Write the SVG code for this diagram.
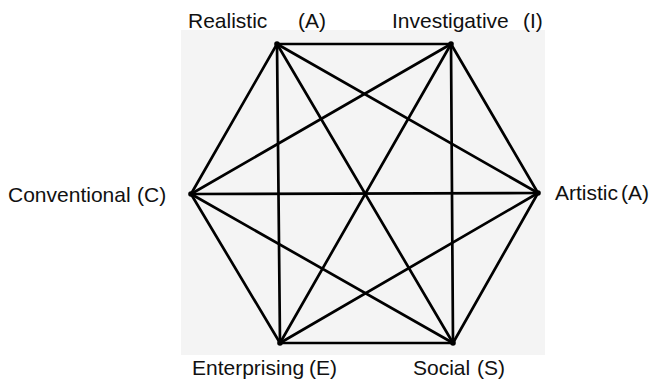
<svg xmlns="http://www.w3.org/2000/svg" width="650" height="381" viewBox="0 0 650 381">
  <style>
    .lbl { font-family: "Liberation Sans", Arial, sans-serif; font-size: 21px; fill: #111; }
    .edge { stroke: #000; stroke-width: 2.7; stroke-linecap: round; fill: none; }
    .dot { fill: #000; }
  </style>
  <rect width="650" height="381" fill="#ffffff"/>
  <!-- panel behind the hexagon -->
  <rect x="181" y="30" width="364" height="325" fill="#f4f4f4"/>

  <!-- all fifteen links between the six types -->
  <g id="connectors">
    <!-- outer hexagon -->
    <line class="edge" x1="277" y1="44" x2="451" y2="44"/>
    <line class="edge" x1="451" y1="44" x2="538" y2="193"/>
    <line class="edge" x1="538" y1="193" x2="453" y2="343"/>
    <line class="edge" x1="453" y1="343" x2="280" y2="343"/>
    <line class="edge" x1="280" y1="343" x2="191" y2="194"/>
    <line class="edge" x1="191" y1="194" x2="277" y2="44"/>
    <!-- diagonals -->
    <line class="edge" x1="277" y1="44" x2="538" y2="193"/>
    <line class="edge" x1="277" y1="44" x2="453" y2="343"/>
    <line class="edge" x1="277" y1="44" x2="280" y2="343"/>
    <line class="edge" x1="451" y1="44" x2="191" y2="194"/>
    <line class="edge" x1="451" y1="44" x2="280" y2="343"/>
    <line class="edge" x1="451" y1="44" x2="453" y2="343"/>
    <line class="edge" x1="191" y1="194" x2="538" y2="193"/>
    <line class="edge" x1="191" y1="194" x2="453" y2="343"/>
    <line class="edge" x1="280" y1="343" x2="538" y2="193"/>
  </g>

  <g id="realistic">
    <circle class="dot" cx="277" cy="44" r="2.8"/>
    <text class="lbl" x="188" y="28">Realistic</text>
    <text class="lbl" x="298" y="28">(A)</text>
  </g>
  <g id="investigative">
    <circle class="dot" cx="451" cy="44" r="2.8"/>
    <text class="lbl" x="392" y="28">Investigative</text>
    <text class="lbl" x="523" y="28">(I)</text>
  </g>
  <g id="artistic">
    <circle class="dot" cx="538" cy="193" r="2.8"/>
    <text class="lbl" x="555" y="200">Artistic</text>
    <text class="lbl" x="621" y="200">(A)</text>
  </g>
  <g id="social">
    <circle class="dot" cx="453" cy="343" r="2.8"/>
    <text class="lbl" x="413" y="375">Social</text>
    <text class="lbl" x="477" y="375">(S)</text>
  </g>
  <g id="enterprising">
    <circle class="dot" cx="280" cy="343" r="2.8"/>
    <text class="lbl" x="192" y="375">Enterprising</text>
    <text class="lbl" x="309" y="375">(E)</text>
  </g>
  <g id="conventional">
    <circle class="dot" cx="191" cy="194" r="2.8"/>
    <text class="lbl" x="8" y="202">Conventional</text>
    <text class="lbl" x="137" y="202">(C)</text>
  </g>
</svg>
